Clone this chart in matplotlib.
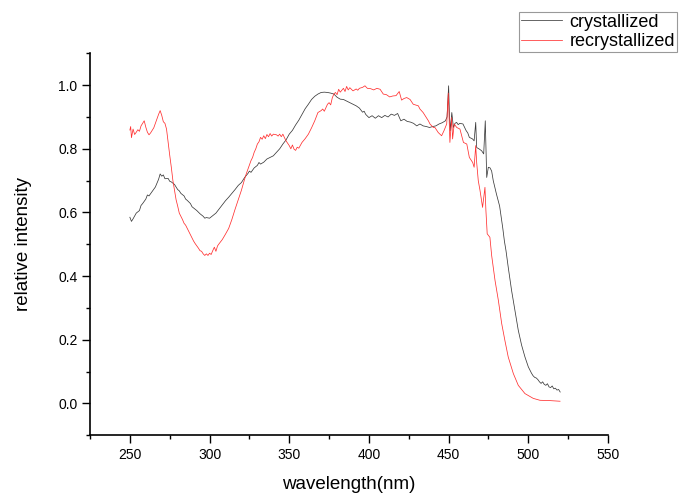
import matplotlib
matplotlib.use('Agg')
import matplotlib.pyplot as plt
from matplotlib.ticker import MultipleLocator

plt.rcParams['font.family'] = ['Liberation Sans', 'DejaVu Sans']

# crystallized (black)
wl_cry = [250, 251, 252, 254, 256, 257, 258, 260, 261, 262, 264, 266, 268, 269, 270, 271, 272, 274, 275, 276,
          278, 280, 281, 282, 284, 285, 286, 288, 289, 290, 292, 294, 296, 297, 298, 300, 302, 304, 306, 308,
          310, 312, 314, 316, 318, 320, 322, 324, 325, 326, 328, 330, 331, 332, 334, 336, 338, 340, 342, 344,
          346, 348, 350, 352, 354, 356, 358, 360, 362, 364, 366, 368, 370, 372, 374, 376, 378, 380, 382, 384,
          386, 388, 390, 392, 394, 396, 397, 398, 400, 402, 404, 406, 408, 410, 412, 414, 416, 418, 420, 422,
          424, 426, 428, 430, 432, 434, 436, 438, 440, 442, 444, 446, 448, 449, 450, 450.5, 451, 452, 453, 454,
          455, 456, 457, 459, 461, 462, 463, 465, 466, 467, 467.6, 469, 470.7, 472, 473, 473.9, 474.9, 476, 477, 478,
          480, 482, 483, 484, 485, 486, 487.4, 489.5, 491.6, 493.7, 495.8, 497.9, 500, 502, 503, 504, 505, 506,
          507, 508, 509, 510, 511, 512, 513, 514, 515, 516, 517, 518, 519, 520]
int_cry = [0.585, 0.572, 0.580, 0.598, 0.606, 0.622, 0.628, 0.642, 0.655, 0.652, 0.666, 0.680, 0.704, 0.721, 0.714, 0.718, 0.706, 0.707, 0.698, 0.696,
           0.688, 0.672, 0.668, 0.660, 0.652, 0.642, 0.638, 0.628, 0.618, 0.614, 0.606, 0.596, 0.588, 0.582, 0.584, 0.582, 0.590, 0.598, 0.611, 0.624,
           0.637, 0.648, 0.660, 0.672, 0.685, 0.694, 0.710, 0.722, 0.730, 0.726, 0.740, 0.748, 0.757, 0.752, 0.758, 0.768, 0.773, 0.778, 0.789, 0.800,
           0.815, 0.828, 0.846, 0.858, 0.875, 0.890, 0.908, 0.926, 0.940, 0.955, 0.965, 0.972, 0.977, 0.978, 0.977, 0.975, 0.972, 0.962, 0.956, 0.955,
           0.950, 0.945, 0.940, 0.935, 0.928, 0.915, 0.918, 0.908, 0.898, 0.904, 0.896, 0.904, 0.898, 0.905, 0.900, 0.909, 0.905, 0.911, 0.888, 0.893,
           0.886, 0.884, 0.880, 0.872, 0.878, 0.872, 0.870, 0.867, 0.870, 0.872, 0.878, 0.882, 0.888, 0.900, 0.998, 0.909, 0.857, 0.914, 0.867, 0.880,
           0.883, 0.876, 0.880, 0.878, 0.857, 0.850, 0.836, 0.831, 0.825, 0.883, 0.804, 0.800, 0.794, 0.784, 0.888, 0.710, 0.742, 0.740, 0.730, 0.700,
           0.658, 0.620, 0.585, 0.550, 0.510, 0.480, 0.428, 0.355, 0.292, 0.230, 0.183, 0.146, 0.115, 0.095, 0.087, 0.082, 0.080, 0.075,
           0.068, 0.063, 0.068, 0.060, 0.057, 0.062, 0.052, 0.050, 0.055, 0.046, 0.048, 0.042, 0.044, 0.036]

# recrystallized (red)
wl_rec = [250, 250.5, 251, 252, 253, 254, 255, 256, 257, 258, 259, 260, 261, 262, 263, 264, 265, 266, 267, 268,
          269, 270, 271, 272, 273, 274, 275, 276, 277, 278, 279, 280, 281, 282, 283, 284, 285, 286, 287, 288,
          289, 290, 291, 292, 293, 294, 295, 296, 297, 298, 299, 300, 301, 302, 303, 304, 305, 306, 308, 310,
          312, 314, 316, 318, 320, 322, 323, 324, 325, 326, 327, 328, 329, 330, 331, 332, 333, 334, 335, 336,
          337, 338, 339, 340, 342, 343, 344, 345, 346, 347, 348, 350, 351, 352, 353, 354, 355, 356, 358, 360,
          362, 364, 366, 368, 370, 371, 372, 374, 375, 376, 377, 378, 379, 380, 381, 382, 384, 385, 386, 387,
          388, 390, 392, 393, 394, 396, 397.5, 399, 401, 403, 405, 407, 409, 411, 413, 415, 417, 419, 420.5, 422,
          423.7, 425.8, 427.8, 429, 431, 432, 434, 436, 437.3, 438.3, 440.4, 441.4, 443.5, 444.6, 445.6, 447.1, 448.8, 449.8, 450.8, 451.9,
          452.5, 453.5, 455.1, 457.1, 459.3, 461.4, 463, 465.1, 466, 467, 467.6, 468.6, 469.7, 471.3, 472.8, 473.4, 474.2, 475.9, 477, 479.1,
          481.2, 483.3, 485.3, 487.4, 490.6, 493.7, 497.9, 503.1, 507.3, 513.6, 519.9]
int_rec = [0.859, 0.870, 0.835, 0.862, 0.845, 0.852, 0.860, 0.855, 0.872, 0.880, 0.888, 0.868, 0.852, 0.844, 0.850, 0.858, 0.866, 0.880, 0.895, 0.908,
           0.920, 0.905, 0.885, 0.880, 0.862, 0.820, 0.780, 0.742, 0.700, 0.669, 0.640, 0.620, 0.598, 0.588, 0.578, 0.566, 0.560, 0.550, 0.540, 0.530,
           0.520, 0.510, 0.502, 0.495, 0.488, 0.480, 0.478, 0.470, 0.465, 0.470, 0.465, 0.472, 0.468, 0.480, 0.491, 0.478, 0.495, 0.502, 0.515, 0.532,
           0.550, 0.578, 0.610, 0.640, 0.670, 0.705, 0.721, 0.735, 0.748, 0.763, 0.773, 0.789, 0.800, 0.815, 0.822, 0.836, 0.830, 0.841, 0.832, 0.845,
           0.838, 0.848, 0.840, 0.846, 0.844, 0.840, 0.846, 0.838, 0.846, 0.835, 0.825, 0.810, 0.800, 0.812, 0.799, 0.795, 0.805, 0.802, 0.820, 0.832,
           0.846, 0.866, 0.888, 0.914, 0.920, 0.925, 0.918, 0.940, 0.945, 0.938, 0.960, 0.972, 0.977, 0.970, 0.987, 0.978, 0.990, 0.980, 0.996, 0.985,
           0.992, 0.982, 0.988, 0.984, 0.990, 0.993, 0.998, 0.990, 0.989, 0.985, 0.990, 0.987, 0.972, 0.970, 0.963, 0.966, 0.967, 0.980, 0.953, 0.958,
           0.961, 0.955, 0.940, 0.938, 0.935, 0.925, 0.914, 0.898, 0.888, 0.878, 0.867, 0.867, 0.851, 0.846, 0.841, 0.857, 0.878, 0.975, 0.820, 0.898,
           0.831, 0.878, 0.867, 0.862, 0.820, 0.815, 0.773, 0.757, 0.742, 0.810, 0.757, 0.700, 0.669, 0.616, 0.679, 0.606, 0.533, 0.522, 0.465, 0.387,
           0.324, 0.251, 0.198, 0.146, 0.094, 0.057, 0.031, 0.016, 0.010, 0.009, 0.007]

fig = plt.figure(figsize=(6.81, 4.95), dpi=100)
ax = fig.add_axes([0.1322, 0.1206, 0.7606, 0.7717])

ax.plot(wl_cry, int_cry, color='#3a3a3a', linewidth=0.55, label='crystallized')
ax.plot(wl_rec, int_rec, color='#ff3030', linewidth=0.55, label='recrystallized')

ax.set_xlim(225, 550)
ax.set_ylim(-0.1, 1.1)
ax.xaxis.set_major_locator(MultipleLocator(50))
ax.xaxis.set_minor_locator(MultipleLocator(25))
ax.yaxis.set_major_locator(MultipleLocator(0.2))
ax.yaxis.set_minor_locator(MultipleLocator(0.1))
ax.yaxis.set_major_formatter(plt.FormatStrFormatter('%.1f'))
ax.set_xticks([250, 300, 350, 400, 450, 500, 550])

ax.spines['top'].set_visible(False)
ax.spines['right'].set_visible(False)
ax.spines['left'].set_linewidth(1.2)
ax.spines['bottom'].set_linewidth(1.2)
ax.tick_params(which='major', direction='out', length=5.5, width=1.0, labelsize=10, pad=3.5)
ax.tick_params(which='minor', direction='out', length=3, width=1.0)

ax.set_xlabel('wavelength(nm)', fontsize=13.5, labelpad=10)
ax.set_ylabel('relative intensity', fontsize=13.5, labelpad=19)

leg = fig.legend(loc='upper left', bbox_to_anchor=(0.762, 0.976), fontsize=13, frameon=True,
                 fancybox=False, handlelength=2.3, handletextpad=0.4, labelspacing=0.15,
                 borderpad=0.1, borderaxespad=0)
leg.get_frame().set_edgecolor('#808080')
leg.get_frame().set_linewidth(0.8)

plt.savefig('out.png', dpi=100)
